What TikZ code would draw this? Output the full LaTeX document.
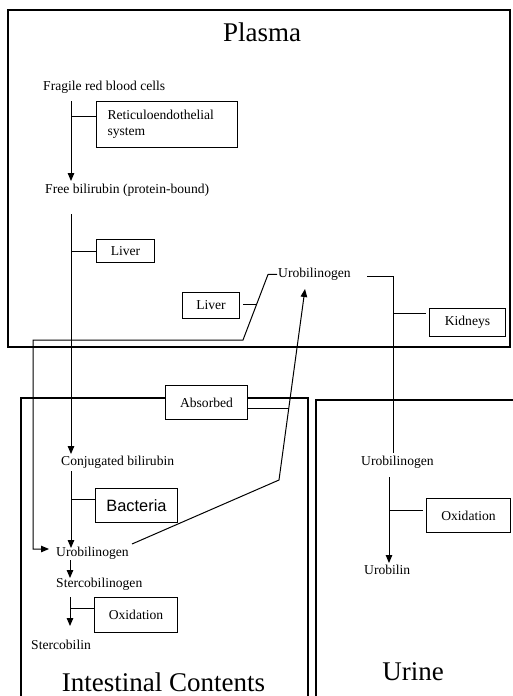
\documentclass[tikz,border=0pt]{standalone}
\usepackage{fontspec}
\setmainfont{Liberation Serif}
\newfontfamily\arialfont{Liberation Sans}
\usetikzlibrary{arrows.meta}
\begin{document}
\begin{tikzpicture}[x=1pt,y=-1pt,
  txt/.style={inner sep=0pt, font=\fontsize{13.6}{16}\selectfont, anchor=base west},
  box/.style={draw, line width=1pt, inner sep=0pt, font=\fontsize{13.6}{16}\selectfont, anchor=north west},
  ttl/.style={inner sep=0pt, font=\fontsize{27}{30}\selectfont, anchor=base},
  ln/.style={line width=1pt},
  arr/.style={line width=1pt, -{Triangle[width=6.5pt,length=8pt]}},
  frm/.style={line width=1.1pt}]
\useasboundingbox (0,0) rectangle (513,696);
% frames
\draw[frm] (8,10) rectangle (510,347);
\draw[frm] (21,700) -- (21,398) -- (308,398) -- (308,700);
\draw[frm] (316,700) -- (316,400) -- (515,400);
% texts
\node[ttl] (tplasma) at (262,41.5) {Plasma};
\node[txt] (frbc) at (43,90.5) {Fragile red blood cells};
\node[box, inner xsep=11pt, text width=119pt, minimum height=46pt, align=left] (res) at (96,101) {Reticuloendothelial\\system};
\node[txt] (fb) at (45,193.5) {Free bilirubin (protein-bound)};
\node[box, minimum width=58pt, minimum height=23pt] (liver1) at (96,239) {Liver};
\node[txt] (urop) at (278,277.5) {Urobilinogen};
\node[box, minimum width=57pt, minimum height=26pt] (liver2) at (182,292) {Liver};
\node[box, minimum width=76pt, minimum height=28pt] (kid) at (429,308) {Kidneys};
\node[box, fill=white, minimum width=82pt, minimum height=34pt] (abs) at (165,385) {Absorbed};
\node[txt] (conj) at (61,465.5) {Conjugated bilirubin};
\node[box, minimum width=82pt, minimum height=34pt, font=\arialfont\fontsize{16.4}{18}\selectfont] (bac) at (95,488) {Bacteria};
\node[txt] (uroi) at (56,556) {Urobilinogen};
\node[txt] (sbg) at (56,587) {Stercobilinogen};
\node[box, minimum width=83pt, minimum height=35pt] (ox1) at (94,597) {Oxidation};
\node[txt] (sb) at (31,649) {Stercobilin};
\node[ttl] (tint) at (163.5,691) {Intestinal Contents};
\node[ttl] (turine) at (413,680) {Urine};
\node[txt] (urou) at (361,465) {Urobilinogen};
\node[box, minimum width=84pt, minimum height=34pt] (ox2) at (426,498) {Oxidation};
\node[txt] (ub) at (364,574) {Urobilin};
% coordinates
\coordinate (a1s) at (71,101);  \coordinate (a1e) at (71,181);
\coordinate (b1) at (71,116);
\coordinate (a2s) at (71,214);  \coordinate (a2e) at (71,454);
\coordinate (b2) at (71,251);
\coordinate (a3s) at (71,471);  \coordinate (a3e) at (71,548);
\coordinate (b3) at (71,499);
\coordinate (a4s) at (70,560);  \coordinate (a4e) at (70,578);
\coordinate (a5s) at (70,597);  \coordinate (a5e) at (70,626);
\coordinate (b5) at (70,608);
\coordinate (u1) at (268,274.5);
\coordinate (u2) at (243,340);
\coordinate (u3) at (33,340);
\coordinate (u4) at (33,549);
\coordinate (u5) at (49,549);
\coordinate (bl2s) at (243,304); \coordinate (bl2e) at (256.8,304);
\coordinate (r1) at (132,544);
\coordinate (r2) at (279,480);
\coordinate (r3) at (305,289);
\coordinate (bab) at (288.9,408);
\coordinate (k1) at (367,276);
\coordinate (k2) at (393,276);
\coordinate (k3) at (393,453);
\coordinate (bk) at (393,313);
\coordinate (o2s) at (389,477); \coordinate (o2e) at (389,563);
\coordinate (bo2) at (389,510);
% connectors
\draw[arr] (a1s) -- (a1e);
\draw[ln] (b1) -- (b1 -| res.west);
\draw[arr] (a2s) -- (a2e);
\draw[ln] (b2) -- (b2 -| liver1.west);
\draw[arr] (a3s) -- (a3e);
\draw[ln] (b3) -- (b3 -| bac.west);
\draw[arr] (a4s) -- (a4e);
\draw[arr] (a5s) -- (a5e);
\draw[ln] (b5) -- (b5 -| ox1.west);
\draw[arr] ([xshift=-1pt]urop.west) -- (u1) -- (u2) -- (u3) -- (u4) -- (u5);
\draw[ln] (bl2s) -- (bl2e);
\draw[arr] (r1) -- (r2) -- (r3);
\draw[ln] (bab -| abs.east) -- (bab);
\draw[ln] (k1) -- (k2) -- (k3);
\draw[ln] (bk) -- ([xshift=-3pt]bk -| kid.west);
\draw[arr] (o2s) -- (o2e);
\draw[ln] (bo2) -- ([xshift=-3pt]bo2 -| ox2.west);
\end{tikzpicture}
\end{document}
